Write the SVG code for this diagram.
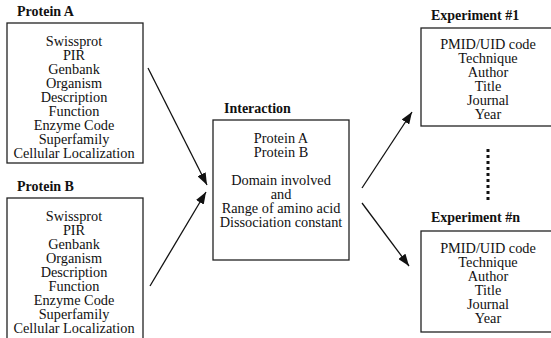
<svg xmlns="http://www.w3.org/2000/svg" width="551" height="338" viewBox="0 0 551 338">
<defs>
<style>
.box{fill:#fff;stroke:#222;stroke-width:1.3}
.t{font-family:'Liberation Serif','Times New Roman',Times,'DejaVu Serif',serif;font-size:14.3px;fill:#111;text-anchor:middle}
.h{font-family:'Liberation Serif','Times New Roman',Times,'DejaVu Serif',serif;font-size:14px;font-weight:bold;fill:#111}
.c{stroke:#111;stroke-width:1.3;fill:none;marker-end:url(#ah)}
</style>
<marker id="ah" viewBox="0 0 12 9" refX="12" refY="4.5" markerWidth="12" markerHeight="9" markerUnits="userSpaceOnUse" orient="auto">
<path d="M0,0 L12,4.5 L0,9 z" fill="#111"/>
</marker>
</defs>
<rect width="551" height="338" fill="#fff"/>
<g id="proteinA">
<text class="h" x="17" y="16">Protein A</text>
<rect class="box" x="7" y="23" width="136" height="140"/>
<text class="t" x="74" y="46">Swissprot</text>
<text class="t" x="74" y="60">PIR</text>
<text class="t" x="74" y="74">Genbank</text>
<text class="t" x="74" y="88">Organism</text>
<text class="t" x="74" y="102">Description</text>
<text class="t" x="74" y="116">Function</text>
<text class="t" x="74" y="130">Enzyme Code</text>
<text class="t" x="74" y="144">Superfamily</text>
<text class="t" x="74" y="158">Cellular Localization</text>
</g>
<g id="proteinB">
<text class="h" x="17" y="191">Protein B</text>
<rect class="box" x="7" y="198" width="136" height="145"/>
<text class="t" x="74" y="221">Swissprot</text>
<text class="t" x="74" y="235">PIR</text>
<text class="t" x="74" y="249">Genbank</text>
<text class="t" x="74" y="263">Organism</text>
<text class="t" x="74" y="277">Description</text>
<text class="t" x="74" y="291">Function</text>
<text class="t" x="74" y="305">Enzyme Code</text>
<text class="t" x="74" y="319">Superfamily</text>
<text class="t" x="74" y="333">Cellular Localization</text>
</g>
<g id="interaction">
<text class="h" x="224" y="113">Interaction</text>
<rect class="box" x="213" y="120" width="136" height="140"/>
<text class="t" x="281" y="143">Protein A</text>
<text class="t" x="281" y="157">Protein B</text>
<text class="t" x="281" y="185">Domain involved</text>
<text class="t" x="281" y="199">and</text>
<text class="t" x="281" y="213">Range of amino acid</text>
<text class="t" x="281" y="227">Dissociation constant</text>
</g>
<g id="experiment1">
<text class="h" x="431" y="20">Experiment #1</text>
<rect class="box" x="421" y="28" width="140" height="98"/>
<text class="t" x="488" y="49">PMID/UID code</text>
<text class="t" x="488" y="63">Technique</text>
<text class="t" x="488" y="77">Author</text>
<text class="t" x="488" y="91">Title</text>
<text class="t" x="488" y="105">Journal</text>
<text class="t" x="488" y="119">Year</text>
</g>
<g id="experimentN">
<text class="h" x="431" y="222">Experiment #n</text>
<rect class="box" x="421" y="231" width="140" height="101"/>
<text class="t" x="488" y="253">PMID/UID code</text>
<text class="t" x="488" y="267">Technique</text>
<text class="t" x="488" y="281">Author</text>
<text class="t" x="488" y="295">Title</text>
<text class="t" x="488" y="309">Journal</text>
<text class="t" x="488" y="323">Year</text>
</g>
<g id="connectors">
<line class="c" x1="148" y1="68" x2="207" y2="185"/>
<line class="c" x1="150" y1="286" x2="206" y2="192"/>
<line class="c" x1="362" y1="188" x2="412" y2="112"/>
<line class="c" x1="362" y1="203" x2="409" y2="266"/>
<line x1="488" y1="149" x2="488" y2="201" stroke="#111" stroke-width="3" stroke-dasharray="3,3"/>
</g>
</svg>
